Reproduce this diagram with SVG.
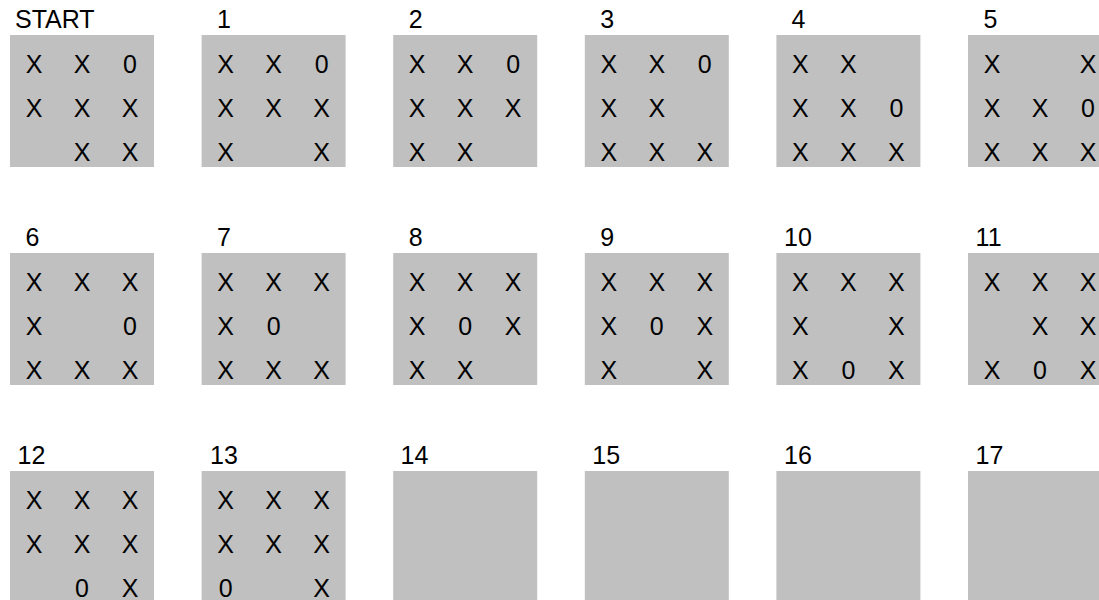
<svg xmlns="http://www.w3.org/2000/svg" width="1099" height="600" viewBox="0 0 1099 600">
<style>
.bg{fill:#ffffff}
.box{fill:#c0c0c0}
text{font-family:"Liberation Sans",Arial,sans-serif;font-size:25px;fill:#000000}
.c{text-anchor:middle}
</style>
<rect class="bg" x="0" y="0" width="1099" height="600"/>
<g id="connectors"/>
<g id="n0"><text x="15" y="28">START</text><rect class="box" x="10" y="35" width="144" height="132"/>
<text class="c" x="34" y="73">X</text><text class="c" x="82" y="73">X</text><text class="c" x="130" y="73">0</text>
<text class="c" x="34" y="117">X</text><text class="c" x="82" y="117">X</text><text class="c" x="130" y="117">X</text>
<text class="c" x="82" y="161">X</text><text class="c" x="130" y="161">X</text></g>
<g id="n1"><text x="217" y="28">1</text><rect class="box" x="201.6" y="35" width="144" height="132"/>
<text class="c" x="225.6" y="73">X</text><text class="c" x="273.6" y="73">X</text><text class="c" x="321.6" y="73">0</text>
<text class="c" x="225.6" y="117">X</text><text class="c" x="273.6" y="117">X</text><text class="c" x="321.6" y="117">X</text>
<text class="c" x="225.6" y="161">X</text><text class="c" x="321.6" y="161">X</text></g>
<g id="n2"><text x="408.7" y="28">2</text><rect class="box" x="393.2" y="35" width="144" height="132"/>
<text class="c" x="417.2" y="73">X</text><text class="c" x="465.2" y="73">X</text><text class="c" x="513.2" y="73">0</text>
<text class="c" x="417.2" y="117">X</text><text class="c" x="465.2" y="117">X</text><text class="c" x="513.2" y="117">X</text>
<text class="c" x="417.2" y="161">X</text><text class="c" x="465.2" y="161">X</text></g>
<g id="n3"><text x="600.3" y="28">3</text><rect class="box" x="584.8" y="35" width="144" height="132"/>
<text class="c" x="608.8" y="73">X</text><text class="c" x="656.8" y="73">X</text><text class="c" x="704.8" y="73">0</text>
<text class="c" x="608.8" y="117">X</text><text class="c" x="656.8" y="117">X</text>
<text class="c" x="608.8" y="161">X</text><text class="c" x="656.8" y="161">X</text><text class="c" x="704.8" y="161">X</text></g>
<g id="n4"><text x="791.4" y="28">4</text><rect class="box" x="776.4" y="35" width="144" height="132"/>
<text class="c" x="800.4" y="73">X</text><text class="c" x="848.4" y="73">X</text>
<text class="c" x="800.4" y="117">X</text><text class="c" x="848.4" y="117">X</text><text class="c" x="896.4" y="117">0</text>
<text class="c" x="800.4" y="161">X</text><text class="c" x="848.4" y="161">X</text><text class="c" x="896.4" y="161">X</text></g>
<g id="n5"><text x="983.5" y="28">5</text><rect class="box" x="968" y="35" width="144" height="132"/>
<text class="c" x="992" y="73">X</text><text class="c" x="1088" y="73">X</text>
<text class="c" x="992" y="117">X</text><text class="c" x="1040" y="117">X</text><text class="c" x="1088" y="117">0</text>
<text class="c" x="992" y="161">X</text><text class="c" x="1040" y="161">X</text><text class="c" x="1088" y="161">X</text></g>

<g id="n6"><text x="25.5" y="246">6</text><rect class="box" x="10" y="253" width="144" height="132"/>
<text class="c" x="34" y="291">X</text><text class="c" x="82" y="291">X</text><text class="c" x="130" y="291">X</text>
<text class="c" x="34" y="335">X</text><text class="c" x="130" y="335">0</text>
<text class="c" x="34" y="379">X</text><text class="c" x="82" y="379">X</text><text class="c" x="130" y="379">X</text></g>
<g id="n7"><text x="217" y="246">7</text><rect class="box" x="201.6" y="253" width="144" height="132"/>
<text class="c" x="225.6" y="291">X</text><text class="c" x="273.6" y="291">X</text><text class="c" x="321.6" y="291">X</text>
<text class="c" x="225.6" y="335">X</text><text class="c" x="273.6" y="335">0</text>
<text class="c" x="225.6" y="379">X</text><text class="c" x="273.6" y="379">X</text><text class="c" x="321.6" y="379">X</text></g>
<g id="n8"><text x="408.7" y="246">8</text><rect class="box" x="393.2" y="253" width="144" height="132"/>
<text class="c" x="417.2" y="291">X</text><text class="c" x="465.2" y="291">X</text><text class="c" x="513.2" y="291">X</text>
<text class="c" x="417.2" y="335">X</text><text class="c" x="465.2" y="335">0</text><text class="c" x="513.2" y="335">X</text>
<text class="c" x="417.2" y="379">X</text><text class="c" x="465.2" y="379">X</text></g>
<g id="n9"><text x="600.3" y="246">9</text><rect class="box" x="584.8" y="253" width="144" height="132"/>
<text class="c" x="608.8" y="291">X</text><text class="c" x="656.8" y="291">X</text><text class="c" x="704.8" y="291">X</text>
<text class="c" x="608.8" y="335">X</text><text class="c" x="656.8" y="335">0</text><text class="c" x="704.8" y="335">X</text>
<text class="c" x="608.8" y="379">X</text><text class="c" x="704.8" y="379">X</text></g>
<g id="n10"><text x="784" y="246">10</text><rect class="box" x="776.4" y="253" width="144" height="132"/>
<text class="c" x="800.4" y="291">X</text><text class="c" x="848.4" y="291">X</text><text class="c" x="896.4" y="291">X</text>
<text class="c" x="800.4" y="335">X</text><text class="c" x="896.4" y="335">X</text>
<text class="c" x="800.4" y="379">X</text><text class="c" x="848.4" y="379">0</text><text class="c" x="896.4" y="379">X</text></g>
<g id="n11"><text x="975.6" y="246">11</text><rect class="box" x="968" y="253" width="144" height="132"/>
<text class="c" x="992" y="291">X</text><text class="c" x="1040" y="291">X</text><text class="c" x="1088" y="291">X</text>
<text class="c" x="1040" y="335">X</text><text class="c" x="1088" y="335">X</text>
<text class="c" x="992" y="379">X</text><text class="c" x="1040" y="379">0</text><text class="c" x="1088" y="379">X</text></g>

<g id="n12"><text x="17.5" y="464">12</text><rect class="box" x="10" y="471" width="144" height="132"/>
<text class="c" x="34" y="509">X</text><text class="c" x="82" y="509">X</text><text class="c" x="130" y="509">X</text>
<text class="c" x="34" y="553">X</text><text class="c" x="82" y="553">X</text><text class="c" x="130" y="553">X</text>
<text class="c" x="82" y="597">0</text><text class="c" x="130" y="597">X</text></g>
<g id="n13"><text x="210" y="464">13</text><rect class="box" x="201.6" y="471" width="144" height="132"/>
<text class="c" x="225.6" y="509">X</text><text class="c" x="273.6" y="509">X</text><text class="c" x="321.6" y="509">X</text>
<text class="c" x="225.6" y="553">X</text><text class="c" x="273.6" y="553">X</text><text class="c" x="321.6" y="553">X</text>
<text class="c" x="225.6" y="597">0</text><text class="c" x="321.6" y="597">X</text></g>
<g id="n14"><text x="400.5" y="464">14</text><rect class="box" x="393.2" y="471" width="144" height="132"/></g>
<g id="n15"><text x="592.3" y="464">15</text><rect class="box" x="584.8" y="471" width="144" height="132"/></g>
<g id="n16"><text x="784" y="464">16</text><rect class="box" x="776.4" y="471" width="144" height="132"/></g>
<g id="n17"><text x="975.6" y="464">17</text><rect class="box" x="968" y="471" width="144" height="132"/></g>
</svg>
